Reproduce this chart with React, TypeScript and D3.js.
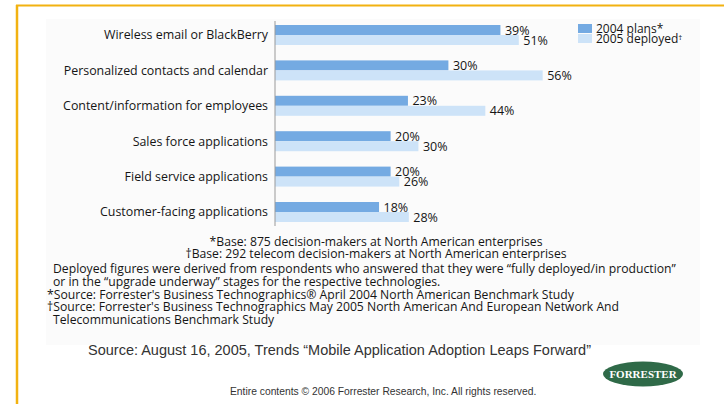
import React, { useEffect, useRef } from "react";
import * as d3 from "d3";

const categories = [
	"Wireless email or BlackBerry",
	"Personalized contacts and calendar",
	"Content/information for employees",
	"Sales force applications",
	"Field service applications",
	"Customer-facing applications",
];
const plans2004 = [39, 30, 23, 20, 20, 18];
const deployed2005 = [51, 56, 44, 30, 26, 28];
const seriesNames = ["2004 plans", "2005 deployed"];
const seriesMarks = ["*", "\u2020"];

const baseNotes = [
	"*Base: 875 decision-makers at North American enterprises",
	"\u2020Base: 292 telecom decision-makers at North American enterprises",
];
const detailNotes = [
	"Deployed figures were derived from respondents who answered that they were \u201cfully deployed/in production\u201d",
	"or in the \u201cupgrade underway\u201d stages for the respective technologies.",
	"*Source: Forrester's Business Technographics\u00ae April 2004 North American Benchmark Study",
	"\u2020Source: Forrester's Business Technographics May 2005 North American And European Network And",
	"Telecommunications Benchmark Study",
];
const sourceLine =
	"Source: August 16, 2005, Trends \u201cMobile Application Adoption Leaps Forward\u201d";
const copyrightLine =
	"Entire contents \u00a9 2006  Forrester Research, Inc. All rights reserved.";

const App: React.FC = () => {
	const chartRef = useRef<SVGSVGElement | null>(null);

	useEffect(() => {
		if (!chartRef.current) return;
		const width = 724;
		const height = 404;
		const svg = d3.select(chartRef.current);
		const font = "'Open Sans', 'Noto Sans', sans-serif";
		const ink = "#151515";
		const colors = ["#74aae2", "#cde3f8"];

		svg.append("rect")
			.attr("width", width)
			.attr("height", height)
			.attr("fill", "#fff");
		svg.append("rect")
			.attr("x", 46)
			.attr("y", 19)
			.attr("width", 654)
			.attr("height", 326)
			.attr("fill", "#fbfbfb");

		// orange frame (top + left)
		svg.append("line")
			.attr("x1", 16)
			.attr("x2", width)
			.attr("y1", 5.5)
			.attr("y2", 5.5)
			.attr("stroke", "#f2b211")
			.attr("stroke-width", 2);
		svg.append("line")
			.attr("x1", 17)
			.attr("x2", 17)
			.attr("y1", 5)
			.attr("y2", height)
			.attr("stroke", "#f2b211")
			.attr("stroke-width", 2.5);

		const x0 = 275;
		// the two series are drawn to different scales in the original
		const x2004 = d3.scaleLinear().domain([0, 100]).range([x0, x0 + 578]);
		const x2005 = d3.scaleLinear().domain([0, 100]).range([x0, x0 + 478]);
		const xScales = [x2004, x2005];

		const yScale = d3
			.scaleBand()
			.domain(categories)
			.range([17.3, 229.7])
			.paddingInner(0.435)
			.paddingOuter(0.2175);
		const ySub = d3
			.scaleBand()
			.domain(seriesNames)
			.range([0, yScale.bandwidth()]);

		const rows = categories.map((c, i) => ({
			cat: c,
			vals: [plans2004[i], deployed2005[i]],
		}));

		const g = svg.append("g");
		rows.forEach((r) => {
			const yb = yScale(r.cat) || 0;
			r.vals.forEach((v, s) => {
				const y = yb + (ySub(seriesNames[s]) || 0);
				g.append("rect")
					.attr("x", x0)
					.attr("y", y)
					.attr("width", xScales[s](v) - x0)
					.attr("height", ySub.bandwidth())
					.attr("fill", colors[s]);
				g.append("text")
					.attr("x", xScales[s](v) + 4.5)
					.attr("y", y + ySub.bandwidth() - 0.5)
					.attr("font-family", font)
					.attr("font-size", 12.5)
					.attr("fill", ink)
					.text(`${v}%`);
			});
			g.append("text")
				.attr("x", x0 - 7)
				.attr("y", yb + yScale.bandwidth() / 2)
				.attr("dy", "0.35em")
				.attr("text-anchor", "end")
				.attr("font-family", font)
				.attr("font-size", 12.4)
				.attr("fill", ink)
				.text(r.cat);
		});

		svg.append("line")
			.attr("x1", x0)
			.attr("x2", x0)
			.attr("y1", 21)
			.attr("y2", 226)
			.attr("stroke", "#999")
			.attr("stroke-width", 1);

		// legend
		const legend = svg.append("g").attr("transform", "translate(578,24)");
		seriesNames.forEach((name, s) => {
			legend
				.append("rect")
				.attr("x", 0)
				.attr("y", s * 10)
				.attr("width", 14)
				.attr("height", 9)
				.attr("fill", colors[s]);
			const t = legend
				.append("text")
				.attr("x", 18)
				.attr("y", s * 10.5 + 8.5)
				.attr("font-family", font)
				.attr("font-size", 12)
				.attr("fill", ink)
				.text(name);
			t.append("tspan")
				.attr("font-size", s === 0 ? 12 : 8)
				.attr("dy", s === 0 ? 0 : -3.5)
				.text(seriesMarks[s]);
		});

		// footnotes
		baseNotes.forEach((line, i) => {
			svg.append("text")
				.attr("x", 376)
				.attr("y", 246 + i * 11.5)
				.attr("text-anchor", "middle")
				.attr("font-family", font)
				.attr("font-size", 12.2)
				.attr("fill", ink)
				.text(line);
		});
		detailNotes.forEach((line, i) => {
			const starts = line.startsWith("*") || line.startsWith("\u2020");
			svg.append("text")
				.attr("x", starts ? 47 : 53)
				.attr("y", 273 + i * 12.8)
				.attr("font-family", font)
				.attr("font-size", 12.2)
				.attr("fill", ink)
				.text(line);
		});

		svg.append("text")
			.attr("x", 88)
			.attr("y", 355)
			.attr("font-family", "'Liberation Sans', Arial, sans-serif")
			.attr("font-size", 14.5)
			.attr("fill", "#333")
			.text(sourceLine);

		svg.append("text")
			.attr("x", 230)
			.attr("y", 395)
			.attr("font-family", "'Liberation Sans', Arial, sans-serif")
			.attr("font-size", 10.3)
			.attr("fill", "#333")
			.text(copyrightLine);

		// logo
		svg.append("ellipse")
			.attr("cx", 643)
			.attr("cy", 374)
			.attr("rx", 40)
			.attr("ry", 12.5)
			.attr("fill", "#2f6a48");
		svg.append("text")
			.attr("x", 643)
			.attr("y", 378)
			.attr("text-anchor", "middle")
			.attr("font-family", "'Liberation Serif', serif")
			.attr("font-weight", "bold")
			.attr("font-size", 11)
			.attr("fill", "#fff")
			.text("FORRESTER");

		return () => {
			svg.selectAll("*").remove();
		};
	}, []);

	return (
		<svg
			ref={chartRef}
			width={724}
			height={404}
			style={{ position: "absolute", left: 0, top: 0, display: "block" }}
		/>
	);
};

export default App;
